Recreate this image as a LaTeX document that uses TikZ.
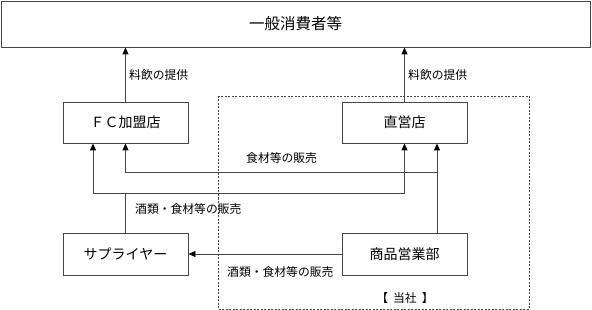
\documentclass[tikz,border=0pt]{standalone}
\usepackage{fontspec}
\setmainfont{Noto Sans CJK JP}
\usepackage{tikz}
\usetikzlibrary{arrows.meta,positioning,calc}
\definecolor{linegray}{RGB}{70,70,70}
\newcommand{\flowlabel}[2]{\node[lbl,anchor=west] at #1 {#2};}

\begin{document}
\begin{tikzpicture}[x=1pt,y=-1pt,
		box/.style={draw=linegray,line width=0.9pt,minimum width=125pt,minimum height=41pt,inner sep=0pt,font=\fontsize{14}{16}\selectfont},
		conn/.style={draw=linegray,line width=0.9pt},
		tip/.style={-{Triangle[length=7pt,width=6pt,color=black]}},
		lbl/.style={font=\fontsize{11.8}{14}\selectfont,inner sep=0pt}]
		\useasboundingbox (0,0) rectangle (592,310);
		% outer box of the company
		\draw[linegray,dashed,dash pattern=on 2pt off 1.5pt,line width=0.7pt] (218,96) rectangle (529,309);
		\node[lbl] (tosha) at (405,298) {【\hspace{5pt}当社\hspace{5pt}】};
		% nodes
		\node[box,minimum width=589pt,minimum height=46pt,font=\fontsize{15.5}{18}\selectfont] (consumer) at (295.5,24) {一般消費者等};
		\node[box] (fc) at (125.5,122.5) {ＦＣ加盟店};
		\node[box] (direct) at (404.5,122.5) {直営店};
		\node[box,minimum height=42pt] (supplier) at (125.5,254) {サプライヤー};
		\node[box,minimum height=42pt] (sales) at (404.5,254) {商品営業部};
		\coordinate (fcin) at (93,0);
		\coordinate (sa) at (437,0);
		\coordinate (rowa) at (0,172);
		\coordinate (rowb) at (0,193);
		% service to consumers
		\draw[conn,tip] (fc.north) -- (fc.north |- consumer.south);
		\draw[conn,tip] (direct.north) -- (direct.north |- consumer.south);
		\flowlabel{(129,75)}{料飲の提供}
		\flowlabel{(408,75)}{料飲の提供}
		% sales dept
		\draw[conn,tip] (sales.north -| sa) -- (direct.south -| sa);
		\draw[conn,tip] (sa |- rowa) -| (fc.south);
		\draw[conn,tip] (sales.west) -- (supplier.east);
		\flowlabel{(246,158)}{食材等の販売}
		\flowlabel{(227,272)}{酒類・食材等の販売}
		% supplier
		\draw[conn] (supplier.north) -- (supplier.north |- rowb);
		\draw[conn,{Triangle[length=7pt,width=6pt,color=black]}-{Triangle[length=7pt,width=6pt,color=black]}] (fcin |- fc.south) |- (direct.south |- rowb) -- (direct.south);
		\flowlabel{(135,209)}{酒類・食材等の販売}
\end{tikzpicture}
\end{document}
